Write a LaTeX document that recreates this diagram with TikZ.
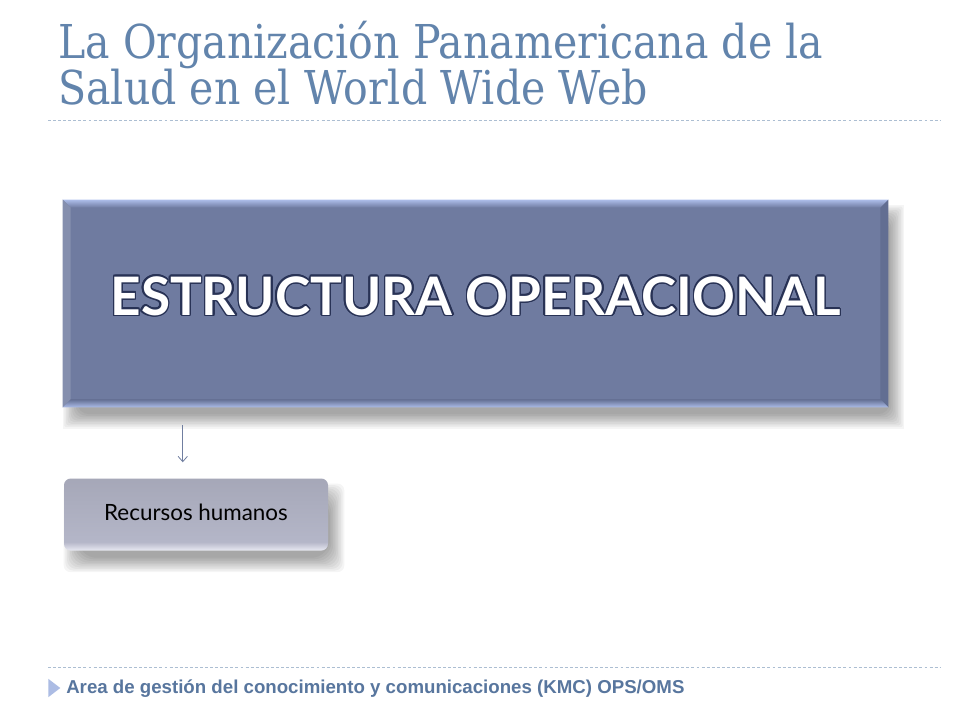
\documentclass[tikz,border=0pt]{standalone}
\usepackage{fontspec}
\setmainfont[FakeStretch=0.88]{DejaVu Serif}
\newfontfamily\boxfont{Lato}
\newfontfamily\footfont{Liberation Sans}
\usepackage{contour}
\usepackage{tikz}
\usetikzlibrary{shapes,arrows,arrows.meta,positioning,backgrounds}
\pgfdeclarelayer{shade}
\pgfsetlayers{background,shade,main}
\definecolor{titleblue}{RGB}{98, 132, 172}
\definecolor{footblue}{RGB}{88, 118, 158}
\definecolor{dashblue}{RGB}{172, 190, 210}
\definecolor{boxblue}{RGB}{111, 123, 160}
\definecolor{boxlight}{RGB}{172, 188, 232}
\definecolor{boxdark}{RGB}{98, 110, 146}
\definecolor{outlineblue}{RGB}{40, 50, 85}
\definecolor{smalltop}{RGB}{180, 182, 200}
\definecolor{smallbot}{RGB}{232, 233, 242}
\definecolor{arrowblue}{RGB}{112, 126, 160}
\pgfdeclareverticalshading{recshade}{100bp}{color(0bp)=(smallbot); color(25bp)=(smallbot); color(31bp)=(smalltop); color(75bp)=(smalltop!92!black); color(100bp)=(smalltop)}
\contourlength{1.1pt}
\tikzstyle{headline} = [anchor=north west, align=left, inner sep=0pt, text=titleblue, font=\fontsize{35}{34.5}\selectfont]
\tikzstyle{bigbox} = [rectangle, fill=boxblue, minimum width=618.75pt, minimum height=155.25pt, inner sep=0pt]
\tikzstyle{smallbox} = [rectangle, rounded corners=5pt, shading=recshade, minimum width=198pt, minimum height=54pt, inner sep=0pt, text=black, font=\boxfont\fontsize{16.8}{18}\selectfont]
\tikzstyle{shadowfill} = [fill=black, opacity=0.04]
\tikzstyle{rule} = [draw=dashblue, line width=0.6pt, dash pattern=on 2.2pt off 1.6pt]
\tikzstyle{tedge} = [draw=arrowblue, line width=0.6pt, -{Straight Barb[length=4pt,width=7pt]}]
\tikzstyle{footer} = [anchor=base west, inner sep=0pt, text=footblue, font=\footfont\bfseries\fontsize{14}{16}\selectfont]

\begin{document}
\begin{tikzpicture}[x=0.75pt, y=-0.75pt]
\begin{pgfonlayer}{background}
\fill[white] (0,0) rectangle (960,720);
\end{pgfonlayer}
\useasboundingbox (0,0) rectangle (960,720);

% title ==================================
\node[headline] (title) at (58,21) {La Organización Panamericana de la\\Salud en el World Wide Web};
\coordinate (ruleL) at (48,120);
\coordinate (ruleR) at (941,120);
\path[rule] (ruleL) -- (ruleR);

% boxes
\node[bigbox] (estructura) at (475.5,303.5) {};
\shade[top color=boxlight, bottom color=boxblue] (estructura.north west) -- (estructura.north east) -- ([xshift=-6pt,yshift=-6pt]estructura.north east) -- ([xshift=6pt,yshift=-6pt]estructura.north west) -- cycle;
\fill[boxblue!85!white] (estructura.north west) -- ([xshift=6pt,yshift=-6pt]estructura.north west) -- ([xshift=6pt,yshift=6pt]estructura.south west) -- (estructura.south west) -- cycle;
\fill[boxdark] (estructura.north east) -- ([xshift=-6pt,yshift=-6pt]estructura.north east) -- ([xshift=-6pt,yshift=6pt]estructura.south east) -- (estructura.south east) -- cycle;
\shade[top color=boxdark, bottom color=boxlight] (estructura.south west) -- ([xshift=6pt,yshift=6pt]estructura.south west) -- ([xshift=-6pt,yshift=6pt]estructura.south east) -- (estructura.south east) -- cycle;
\node[text=white, font=\boxfont\bfseries\fontsize{39.8}{42}\selectfont] (estructuratxt) at ([yshift=5pt]estructura.center) {\contour{outlineblue}{ESTRUCTURA OPERACIONAL}};

\node[smallbox, below right=53.25pt and 0.75pt of estructura.south west] (recursos) {\raisebox{3pt}{Recursos humanos}};

% shadows
\begin{pgfonlayer}{shade}
\foreach \k in {0,...,9} {
  \fill[shadowfill, rounded corners=\k pt] ([xshift=6pt+\k*1.2pt-6pt,yshift=-10pt+6pt-\k*1.2pt]estructura.north west) rectangle ([xshift=6pt-\k*1.2pt+6pt,yshift=-10pt-6pt+\k*1.2pt]estructura.south east);
  \fill[shadowfill, rounded corners=5pt+\k pt] ([xshift=6pt+\k*1.2pt-6pt,yshift=-10pt+6pt-\k*1.2pt]recursos.north west) rectangle ([xshift=6pt-\k*1.2pt+6pt,yshift=-10pt-6pt+\k*1.2pt]recursos.south east);
}
\end{pgfonlayer}

%edges
\path[tedge] ([xshift=90pt,yshift=-13.5pt]estructura.south west) -- ([xshift=89.25pt,yshift=12pt]recursos.north west);

% footer =================================
\coordinate (footL) at (48,667);
\coordinate (footR) at (941,667);
\path[rule] (footL) -- (footR);
\node[isosceles triangle, isosceles triangle apex angle=75, fill=boxlight!80!dashblue, minimum height=9pt, minimum width=12pt, inner sep=0pt, anchor=west] (bullet) at (48,688) {};
\node[footer] (foottxt) at (66,693) {Area de gestión del conocimiento y comunicaciones (KMC) OPS/OMS};

\end{tikzpicture}
\end{document}
